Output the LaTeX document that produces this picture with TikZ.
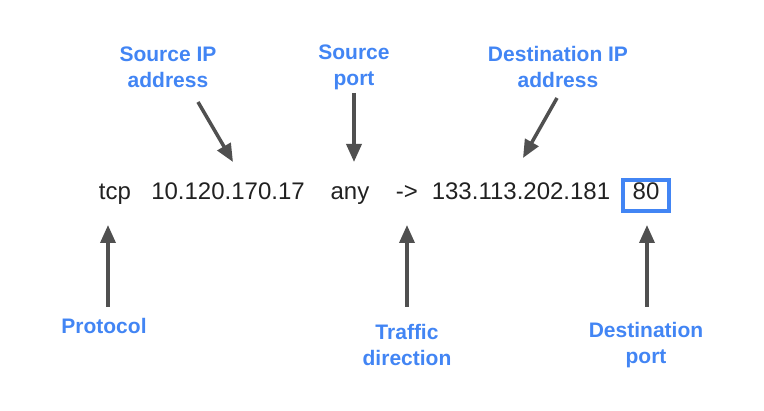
\documentclass[tikz,border=0pt]{standalone}
\usepackage{fontspec}
\setmainfont{Liberation Sans}
\usetikzlibrary{arrows.meta}
\definecolor{gblue}{RGB}{66,133,244}
\definecolor{arrowgray}{RGB}{80,80,80}
\definecolor{ink}{RGB}{33,33,33}
\tikzset{
  lbl/.style={text=gblue, font=\fontsize{21}{26}\selectfont\bfseries, align=center, inner sep=0pt},
  cmd/.style={text=ink, font=\fontsize{24}{28}\selectfont, anchor=base, inner sep=0pt},
  pointer/.style={draw=arrowgray, line width=3.5pt, -{Triangle[length=18pt,width=15pt]}},
  portbox/.style={cmd, draw=gblue, line width=3.5pt, minimum width=46pt,
    text height=16pt, text depth=7pt, inner ysep=4pt}
}

\begin{document}
\begin{tikzpicture}[x=1pt,y=-1pt]
  \useasboundingbox (0,0) rectangle (764,411);

  % the rule itself
  \node[cmd] (proto) at (115,200) {tcp};
  \node[cmd] (srcip) at (228,200) {10.120.170.17};
  \node[cmd] (srcport) at (350,200) {any};
  \node[cmd] (dir) at (407,200) {->};
  \node[cmd] (dstip) at (521,200) {133.113.202.181};
  \node[portbox] (dport) at (646,200) {80};

  % labels above
  \node[lbl] (srciplbl) at (168,67) {Source IP\\address};
  \node[lbl] (srcportlbl) at (354,67) {Source\\port};
  \node[lbl] (dstiplbl) at (558,67) {Destination IP\\address};

  % labels below
  \node[lbl, anchor=base] (protolbl) at (104,334) {Protocol};
  \node[lbl] (dirlbl) at (407,345) {Traffic\\direction};
  \node[lbl] (dportlbl) at (646,345) {Destination\\port};

  % pointers
  \draw[pointer] ([shift={(30,35)}]srciplbl.center) -- ([shift={(5,-38)}]srcip.base);
  \draw[pointer] ([shift={(0,26)}]srcportlbl.center) -- ([shift={(4,-38)}]srcport.base);
  \draw[pointer] ([shift={(-1,31)}]dstiplbl.center) -- ([shift={(2,-42)}]dstip.base);
  \draw[pointer] ([shift={(4,-27)}]protolbl.base) -- ([shift={(-7,25)}]proto.base);
  \draw[pointer] ([shift={(0,-38)}]dirlbl.center) -- ([shift={(0,25)}]dir.base);
  \draw[pointer] ([shift={(1,-38)}]dportlbl.center) -- ([shift={(1,25)}]dport.base);
\end{tikzpicture}
\end{document}
